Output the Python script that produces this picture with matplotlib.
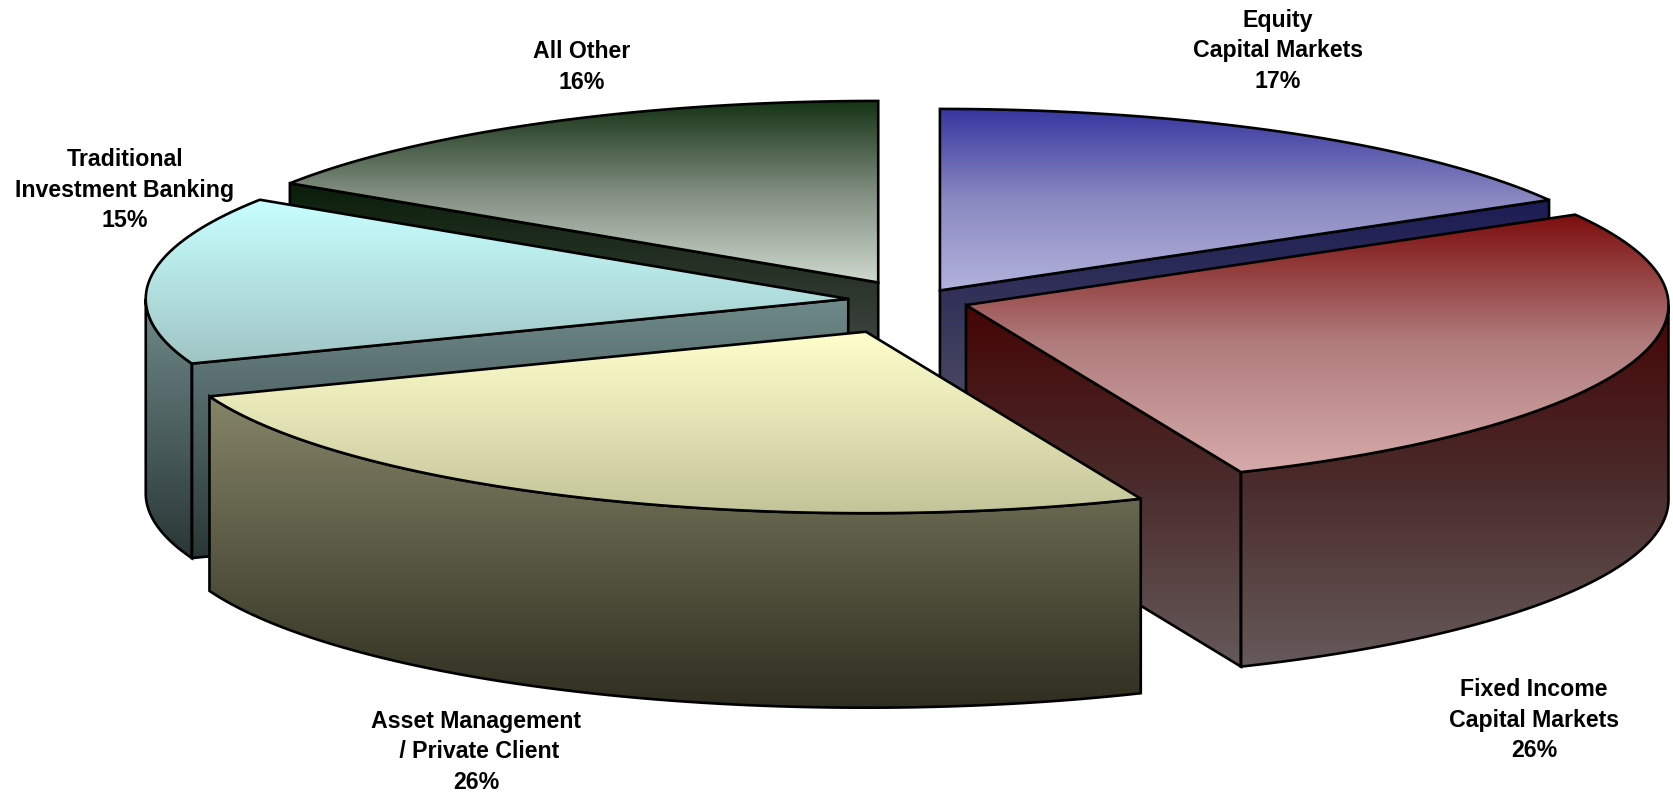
import numpy as np
import matplotlib.pyplot as plt
from matplotlib.colors import LinearSegmentedColormap
from matplotlib.patches import Polygon

plt.rcParams["font.family"] = ["Liberation Sans", "DejaVu Sans"]

# data, clockwise from 12 o'clock
labels = ["Equity\nCapital Markets", "Fixed Income\nCapital Markets", "Asset Management\n / Private Client",
          "Traditional\nInvestment Banking", "All Other"]
percent_text = ["17%", "26%", "26%", "15%", "16%"]
# slice sizes (the printed labels are rounded)
shares = [16.7, 26.9, 25.6, 15.0, 15.8]

# style
explode = [0.066, 0.074, 0.185, 0.098, 0.115]
top_colors = [["#3636a0", "#8a88c0", "#b2b2dc"], ["#7d0e0e", "#b07c7c", "#d6aaaa"], ["#ffffcc", "#e2e2b4", "#c4c49a"],
              ["#c8ffff", "#b4e2e2", "#a0c4c4"], ["#143214", "#7f8c7e", "#ced8ce"]]
side_colors = [["#1c1c55", "#3c3c5c", "#5a5a70"], ["#450505", "#4b2c2c", "#665a5a"], ["#858568", "#5a5944", "#2f2e20"],
               ["#6f8a8a", "#4d6060", "#2a3636"], ["#0a1e0a", "#3a403a", "#6a706a"]]
label_pos = [(1278, 51), (1534, 720), (476, 752), (125, 190), (582, 67)]
draw_order = [4, 0, 3, 1, 2]

cx, cy = 916.7, 300.8
rx, ry = 702.5, 181.5
depth = 194.5

fig = plt.figure(figsize=(16.74, 7.92), dpi=100)
ax = fig.add_axes([0, 0, 1, 1])
ax.set_xlim(0, 1674)
ax.set_ylim(792, 0)
ax.axis("off")


def point(x0, y0, deg):
    a = np.radians(deg)
    return x0 + rx * np.cos(a), y0 - ry * np.sin(a)


def fill_faces(faces, colors, z):
    # one vertical gradient over the bounding box of all faces
    ys = np.concatenate([f[:, 1] for f in faces])
    xs = np.concatenate([f[:, 0] for f in faces])
    cmap = LinearSegmentedColormap.from_list("g", colors)
    grad = np.linspace(0, 1, 256).reshape(-1, 1)
    for f in faces:
        patch = Polygon(f, closed=True, fc="none", ec="none", transform=ax.transData)
        ax.add_patch(patch)
        im = ax.imshow(grad, cmap=cmap, extent=[xs.min(), xs.max(), ys.max(), ys.min()],
                       aspect="auto", interpolation="bilinear", zorder=z, origin="upper")
        im.set_clip_path(patch)
        ax.add_patch(Polygon(f, closed=True, fc="none", ec="black", lw=1.9, joinstyle="miter", zorder=z + 0.5))


starts = 90 - np.cumsum([0] + shares[:-1]) * 3.6
ends = starts - np.array(shares) * 3.6

for n, i in enumerate(draw_order):
    a0, a1 = starts[i], ends[i]
    mid = np.radians((a0 + a1) / 2)
    x0 = cx + explode[i] * rx * np.cos(mid)
    y0 = cy - explode[i] * ry * np.sin(mid)
    z = 2 + n * 3

    sides = []
    # radial wall facing the viewer
    for a, visible in ((a0, np.cos(np.radians(a0)) < -1e-6), (a1, np.cos(np.radians(a1)) > 1e-6)):
        if visible:
            px, py = point(x0, y0, a)
            sides.append(np.array([[x0, y0], [px, py], [px, py + depth], [x0, y0 + depth]]))
    # outer wall, only the part on the front half
    f0, f1 = min(a0, 0), max(a1, -180)
    if f0 > f1:
        t = np.linspace(f0, f1, 200)
        ax_x, ax_y = point(x0, y0, t)
        wall = np.column_stack([np.r_[ax_x, ax_x[::-1]], np.r_[ax_y, ax_y[::-1] + depth]])
        sides.append(wall)
    if sides:
        fill_faces(sides, side_colors[i], z)

    t = np.linspace(a0, a1, 300)
    ax_x, ax_y = point(x0, y0, t)
    top = np.column_stack([np.r_[x0, ax_x], np.r_[y0, ax_y]])
    fill_faces([top], top_colors[i], z + 1)

for i in range(len(labels)):
    ax.text(label_pos[i][0], label_pos[i][1], labels[i] + "\n" + percent_text[i], ha="center", va="center",
            fontsize=16.7, fontweight="bold", color="black", linespacing=1.43, zorder=50)

ax.set_xlim(0, 1674)
ax.set_ylim(792, 0)
fig.savefig("out.png", dpi=100)
